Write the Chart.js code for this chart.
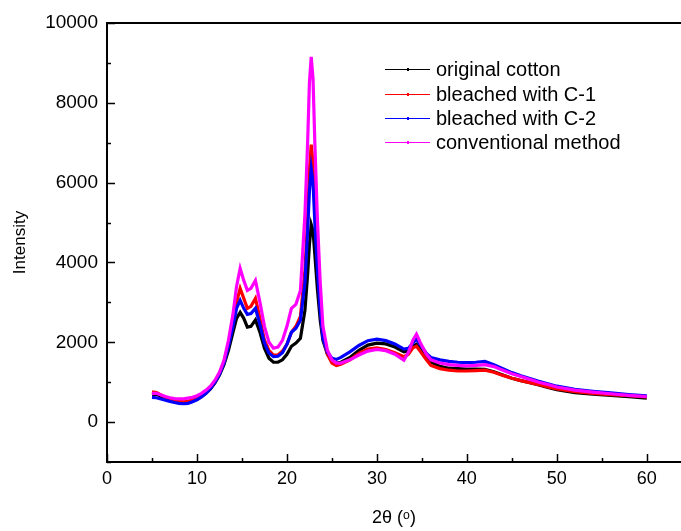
<!DOCTYPE html>
<html>
<head>
<meta charset="utf-8">
<title>XRD patterns</title>
<script src="https://cdn.jsdelivr.net/npm/chart.js@4"></script>
<style>
    html, body { margin:0; padding:0; background:#fff; overflow:hidden; }
    #wrap { width:681px; height:531px; }
</style>
</head>
<body>
<div id="wrap"><canvas id="xrdChart" width="681" height="531"></canvas></div>
<script>

// ======================================================
// DATA
// ======================================================

const angles = [
    5, 5.5, 6, 6.5, 7, 7.5, 8, 8.5, 9, 9.5,
    10, 10.5, 11, 11.5, 12, 12.5, 13, 13.5, 14, 14.4,
    14.8, 15.2, 15.6, 16, 16.5, 17, 17.5, 18, 18.5, 19,
    19.5, 20, 20.5, 21, 21.5, 22, 22.3, 22.5, 22.7, 22.9,
    23.1, 23.4, 23.7, 24, 24.5, 25, 25.5, 26, 27, 28,
    29, 30, 31, 32, 33, 33.5, 34, 34.4, 34.8, 35.5,
    36, 37, 38, 39, 40, 41, 42, 43, 44, 45,
    46, 47, 48, 49, 50, 52, 54, 56, 58, 60
];

const originalCotton = [
    680, 700, 640, 600, 560, 530, 500, 490, 500, 530,
    570, 640, 720, 830, 980, 1180, 1440, 1800, 2250, 2600,
    2750, 2600, 2380, 2400, 2560, 2250, 1850, 1600, 1500, 1500,
    1560, 1700, 1900, 1980, 2100, 2800, 3700, 4450, 4950, 4800,
    4200, 3300, 2550, 2050, 1700, 1520, 1480, 1500, 1620, 1800,
    1930, 1980, 1960, 1880, 1760, 1780, 1900, 1950, 1820, 1620,
    1500, 1400, 1350, 1340, 1330, 1330, 1320, 1260, 1180, 1100,
    1040, 990, 930, 870, 810, 740, 700, 670, 640, 600
];

const bleachedC1 = [
    760, 740, 680, 620, 580, 550, 520, 510, 520, 550,
    600, 660, 750, 860, 1010, 1220, 1500, 1950, 2500, 3000,
    3350, 3100, 2850, 2900, 3100, 2600, 2050, 1800, 1680, 1680,
    1780, 1950, 2250, 2400, 2650, 3800, 5100, 6300, 6950, 6500,
    5400, 4000, 2900, 2150, 1700, 1480, 1420, 1450, 1560, 1720,
    1830, 1860, 1820, 1740, 1640, 1700, 1860, 1900, 1780, 1560,
    1420, 1340, 1300, 1280, 1280, 1290, 1300, 1250, 1170, 1100,
    1040, 990, 940, 880, 830, 760, 720, 690, 660, 630
];

const bleachedC2 = [
    620, 610, 580, 550, 520, 490, 470, 460, 470, 510,
    560, 630, 720, 840, 1000, 1200, 1480, 1900, 2400, 2850,
    3050, 2850, 2700, 2720, 2850, 2450, 1980, 1730, 1640, 1650,
    1740, 1950, 2250, 2350, 2550, 3500, 4800, 5800, 6350, 6000,
    5000, 3800, 2800, 2100, 1750, 1600, 1570, 1620, 1760, 1920,
    2040, 2080, 2040, 1960, 1830, 1850, 1980, 2080, 1950, 1720,
    1620, 1560, 1520, 1500, 1490, 1500, 1520, 1440, 1340, 1240,
    1160, 1090, 1020, 960, 900, 820, 770, 730, 690, 660
];

const conventional = [
    720, 720, 680, 640, 610, 590, 580, 580, 600, 620,
    660, 720, 800, 900, 1050, 1250, 1550, 2050, 2700, 3400,
    3850, 3550, 3300, 3350, 3550, 3000, 2400, 2000, 1850, 1880,
    2050, 2400, 2850, 2950, 3300, 5200, 7000, 8500, 9150, 8600,
    7000, 5000, 3500, 2400, 1800, 1560, 1480, 1480, 1560, 1680,
    1780, 1820, 1790, 1700, 1550, 1750, 2050, 2200, 2000, 1700,
    1560, 1480, 1440, 1420, 1410, 1420, 1440, 1390, 1300, 1210,
    1140, 1070, 1000, 940, 880, 800, 750, 710, 670, 640
];

const seriesNames = [
    "original cotton",
    "bleached with C-1",
    "bleached with C-2",
    "conventional method"
];

const seriesColors = ["#000000", "#ff0000", "#0000ff", "#ff00ff"];

const xTicks = [0, 10, 20, 30, 40, 50, 60];
const yTicks = [0, 2000, 4000, 6000, 8000, 10000];

// ======================================================
// HELPERS
// ======================================================

const FONT = "'Liberation Sans', Arial, sans-serif";

function toPoints(values){

    return angles.map((a,i)=>({x:a, y:values[i]}));

}

// ======================================================
// FRAME PLUGIN: top line, inward ticks, legend
// ======================================================

const framePlugin = {

    id:"frame",

    afterDatasetsDraw(chart){

        const ctx = chart.ctx;
        const area = chart.chartArea;
        const xs = chart.scales.x;
        const ys = chart.scales.y;

        ctx.save();

        ctx.strokeStyle = "#000";
        ctx.lineWidth = 2;

        // top border
        ctx.beginPath();
        ctx.moveTo(area.left, area.top);
        ctx.lineTo(area.right, area.top);
        ctx.stroke();

        ctx.lineWidth = 1.5;

        // x ticks (major + minor), pointing inward
        for(let v=0; v<=60; v+=5){

            const px = Math.round(xs.getPixelForValue(v)) + 0.5;
            const len = (v % 10 === 0) ? 8 : 4;

            ctx.beginPath();
            ctx.moveTo(px, area.bottom);
            ctx.lineTo(px, area.bottom - len);
            ctx.stroke();

        }

        // y ticks (major + minor), pointing inward
        for(let v=-1000; v<=10000; v+=1000){

            const py = Math.round(ys.getPixelForValue(v)) + 0.5;
            const len = (v % 2000 === 0) ? 8 : 4;

            ctx.beginPath();
            ctx.moveTo(area.left, py);
            ctx.lineTo(area.left + len, py);
            ctx.stroke();

        }

        // legend
        const lx0 = 385, lx1 = 430, tx = 436;
        const rows = [69, 94, 118, 142];

        ctx.font = "20px " + FONT;
        ctx.textBaseline = "middle";
        ctx.textAlign = "left";

        seriesNames.forEach((name,i)=>{

            const y = rows[i] + 0.5;

            ctx.strokeStyle = seriesColors[i];
            ctx.lineWidth = 1;
            ctx.beginPath();
            ctx.moveTo(lx0, y);
            ctx.lineTo(lx1, y);
            ctx.stroke();

            ctx.fillStyle = seriesColors[i];
            ctx.fillRect(407, y - 1.5, 2, 3);

            ctx.fillStyle = "#000";
            ctx.fillText(name, tx, rows[i] + 1);

        });

        ctx.restore();

    }

};

// ======================================================
// CHART
// ======================================================

function drawXrdChart(){

    const datasets = [originalCotton, bleachedC1, bleachedC2, conventional]
        .map((values,i)=>({

            label:seriesNames[i],
            data:toPoints(values),
            borderColor:seriesColors[i],
            backgroundColor:seriesColors[i],
            borderWidth:3.2,
            pointRadius:0,
            tension:0,
            order:3 - i

        }));

    new Chart(document.getElementById("xrdChart"),{

        type:"line",

        plugins:[framePlugin],

        data:{ datasets:datasets },

        options:{

            responsive:false,
            animation:false,
            devicePixelRatio:1,

            layout:{ padding:{ top:23, right:0, left:0, bottom:0 } },

            plugins:{
                legend:{ display:false },
                tooltip:{ enabled:false }
            },

            scales:{

                x:{

                    type:"linear",
                    min:0,
                    max:63.8,

                    afterFit:s=>{ s.height = 69; },

                    afterBuildTicks:s=>{
                        s.ticks = xTicks.map(v=>({value:v}));
                    },

                    ticks:{
                        color:"#000",
                        padding:6,
                        maxRotation:0,
                        callback:v=>String(v),
                        font:{ family:FONT, size:18 }
                    },

                    grid:{ display:false, drawTicks:false },

                    border:{ display:true, color:"#000", width:2 },

                    title:{
                        display:true,
                        text:"2θ (ᵒ)",
                        color:"#000",
                        font:{ family:FONT, size:18 },
                        padding:{ top:0, bottom:2 }
                    }

                },

                y:{

                    min:-1000,
                    max:10000,

                    afterFit:s=>{ s.width = 107; },

                    afterBuildTicks:s=>{
                        s.ticks = yTicks.map(v=>({value:v}));
                    },

                    ticks:{
                        color:"#000",
                        padding:9,
                        callback:v=>String(v),
                        font:{ family:FONT, size:19 }
                    },

                    grid:{ display:false, drawTicks:false },

                    border:{ display:true, color:"#000", width:2 },

                    title:{
                        display:true,
                        text:"Intensity",
                        color:"#000",
                        font:{ family:FONT, size:17 },
                        padding:{ top:10, bottom:0 }
                    }

                }

            }

        }

    });

}

drawXrdChart();

</script>
</body>
</html>
